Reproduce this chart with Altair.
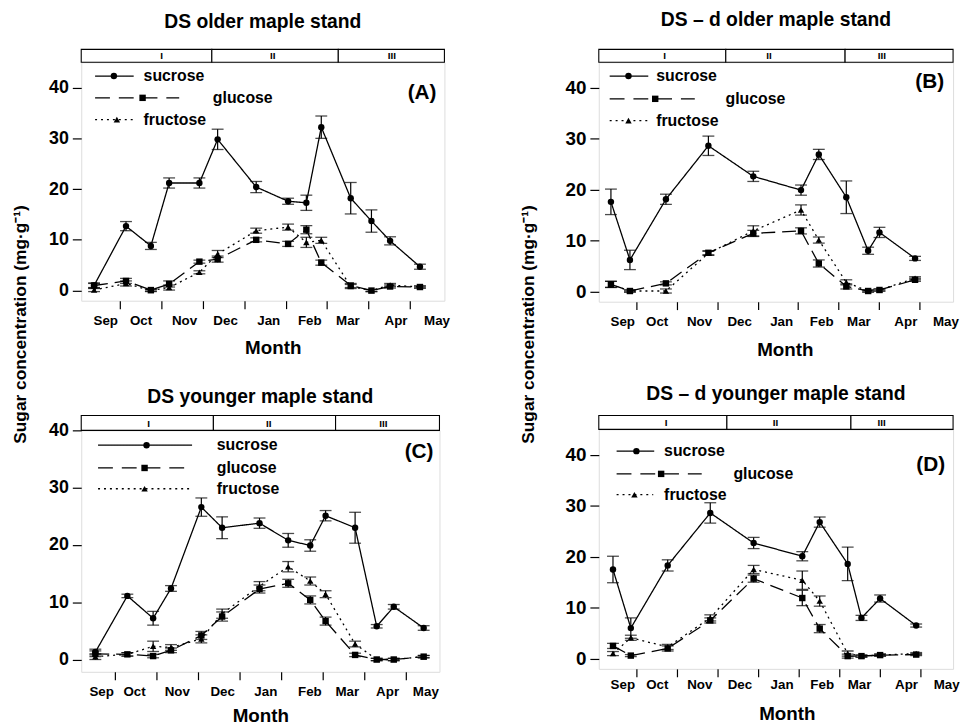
import altair as alt
import pandas as pd

FONT = "Liberation Sans"
SUGARS = ["sucrose", "glucose", "fructose"]
MONTHS = ["Sep", "Oct", "Nov", "Dec", "Jan", "Feb", "Mar", "Apr", "May"]
MONTH_TICKS = [1, 2, 3, 4, 5, 6, 7, 8]
Y_TICKS = [0, 10, 20, 30, 40]
PHASES = ["I", "II", "III"]
Y_TITLE = "Sugar concentration (mg\u00b7g\u207b\u00b9)"

# month label positions (month index units; ticks mark month boundaries)
LAB_ABD = [0.65, 1.50, 2.55, 3.54, 4.58, 5.57, 6.49, 7.65, 8.64]
LAB_C = [0.67, 1.46, 2.49, 3.58, 4.62, 5.68, 6.58, 7.55, 8.47]

# ---- (A) DS older maple stand
A_x = [0.38, 1.15, 1.75, 2.19, 2.92, 3.36, 4.29, 5.06, 5.50, 5.86, 6.57, 7.07, 7.52, 8.24]
A_suc = [1.0, 12.7, 8.8, 21.2, 21.2, 29.8, 20.4, 17.6, 17.3, 32.2, 18.2, 13.7, 9.8, 4.7]
A_suc_se = [0.5, 0.9, 0.7, 1.0, 1.0, 2.0, 1.1, 0.6, 1.5, 2.2, 3.1, 2.2, 0.8, 0.5]
A_glu = [1.0, 1.9, 0.1, 1.3, 5.7, 6.2, 10.0, 9.2, 12.0, 5.5, 1.0, 0.0, 0.8, 0.7]
A_glu_se = [0.4, 0.5, 0.2, 0.6, 0.3, 0.6, 0.4, 0.5, 0.8, 0.5, 0.4, 0.2, 0.3, 0.2]
A_fru = [0.1, 1.4, 0.0, 0.6, 3.6, 7.2, 11.8, 12.5, 9.5, 9.9, 0.8, 0.0, 1.1, 0.7]
A_fru_se = [0.3, 0.5, 0.2, 0.5, 0.3, 0.7, 0.5, 0.6, 1.0, 0.6, 0.4, 0.2, 0.3, 0.2]
A_breaks = [3.22, 6.27]
A_phase_pos = [2.01, 4.69, 7.56]

# ---- (B) DS - d older maple stand
B_x = [0.37, 0.84, 1.73, 2.78, 3.89, 5.07, 5.51, 6.19, 6.73, 7.01, 7.89]
B_suc = [17.6, 6.2, 18.1, 28.6, 22.6, 19.9, 26.9, 18.5, 8.0, 11.6, 6.5]
B_suc_se = [2.5, 1.9, 1.0, 1.9, 1.0, 1.0, 1.0, 3.2, 0.7, 1.0, 0.4]
B_glu = [1.4, 0.1, 1.6, 7.6, 11.4, 11.9, 5.5, 1.0, 0.1, 0.3, 2.3]
B_glu_se = [0.6, 0.2, 0.3, 0.4, 0.6, 0.6, 0.7, 0.5, 0.2, 0.2, 0.3]
B_fru = [1.4, 0.1, 0.1, 7.5, 11.9, 16.0, 10.1, 1.8, 0.1, 0.3, 2.6]
B_fru_se = [0.6, 0.2, 0.4, 0.4, 1.0, 1.0, 0.6, 0.5, 0.2, 0.2, 0.3]
B_breaks = [3.21, 6.16]
B_phase_pos = [1.70, 4.28, 7.07]

# ---- (C) DS younger maple stand
C_x = [0.53, 1.30, 1.92, 2.35, 3.08, 3.58, 4.48, 5.17, 5.70, 6.07, 6.78, 7.30, 7.71, 8.43]
C_suc = [1.3, 11.1, 7.2, 12.4, 26.6, 23.0, 23.8, 20.8, 19.9, 25.1, 23.0, 5.8, 9.2, 5.5]
C_suc_se = [0.5, 0.3, 1.2, 0.5, 1.6, 1.9, 0.9, 1.2, 1.0, 0.9, 2.7, 0.3, 0.4, 0.4]
C_glu = [1.0, 0.9, 0.6, 1.6, 4.2, 7.5, 12.3, 13.3, 10.4, 6.7, 0.8, 0.0, 0.0, 0.5]
C_glu_se = [0.5, 0.3, 0.3, 0.4, 0.7, 0.8, 0.7, 0.7, 0.7, 0.7, 0.3, 0.2, 0.2, 0.2]
C_fru = [0.5, 0.9, 2.3, 2.1, 3.6, 8.0, 12.8, 16.2, 13.7, 11.4, 2.7, 0.0, 0.0, 0.5]
C_fru_se = [0.5, 0.3, 0.9, 0.5, 0.7, 0.8, 0.8, 0.9, 0.7, 0.6, 0.5, 0.2, 0.2, 0.2]
C_breaks = [3.37, 6.31]
C_phase_pos = [1.81, 4.70, 7.46]

# ---- (D) DS - d younger maple stand
D_x = [0.42, 0.86, 1.77, 2.82, 3.89, 5.09, 5.52, 6.21, 6.55, 7.01, 7.90]
D_suc = [17.5, 6.0, 18.3, 28.6, 22.7, 20.1, 26.8, 18.6, 8.0, 11.8, 6.5]
D_suc_se = [2.6, 2.0, 1.1, 2.0, 1.1, 0.9, 1.0, 3.3, 0.5, 0.7, 0.3]
D_glu = [2.5, 0.6, 2.0, 7.5, 15.7, 11.9, 5.9, 0.5, 0.5, 0.7, 0.8]
D_glu_se = [0.5, 0.2, 0.5, 0.5, 0.7, 1.5, 0.8, 0.4, 0.2, 0.2, 0.2]
D_fru = [1.0, 4.1, 2.3, 8.0, 17.5, 15.4, 11.3, 1.0, 0.5, 0.7, 1.0]
D_fru_se = [0.4, 0.5, 0.5, 0.6, 0.8, 1.8, 1.0, 0.5, 0.2, 0.2, 0.2]
D_breaks = [3.23, 6.29]
D_phase_pos = [1.73, 4.43, 7.05]

DASHES = [[1, 0], [14, 7], [2, 4]]
SHAPES = ["circle", "square", "triangle-up"]
LEG_DASHES = [[1, 0], [15, 9], [2, 4]]


def long_frame(x, series):
    rows = []
    for name, (vals, ses) in zip(SUGARS, series):
        for xi, v, s in zip(x, vals, ses):
            rows.append({"x": xi, "sugar": name, "value": v,
                         "lo": max(v - s, -0.3), "hi": v + s})
    return pd.DataFrame(rows)


def panel(df, title, tag, xdom, ydom, label_pos, breaks, phase_pos, w, h,
          strip_h, tick_font, leg, tag_right, tag_y, title_offset,
          lab_pad, title_pad, title_shift):
    xs = alt.Scale(domain=xdom, nice=False, zero=False)
    ys = alt.Scale(domain=ydom, nice=False, zero=False)
    yax = alt.Axis(values=Y_TICKS, grid=False, domain=False, tickSize=9,
                   tickColor="black", tickWidth=1.2, labelFont=FONT,
                   labelFontSize=tick_font, labelFontWeight="bold",
                   labelColor="black", labelPadding=4, title=None)
    tick_axis = alt.Axis(values=MONTH_TICKS, labels=False, grid=False,
                         domain=False, tickSize=8, tickColor="black",
                         tickWidth=1.2, title=None, orient="bottom")
    expr = "[" + ",".join("'%s'" % m for m in MONTHS) + "][floor(datum.value)]"
    label_axis = alt.Axis(values=label_pos, labelExpr=expr, ticks=False,
                          tickSize=0, domain=False, grid=False,
                          labelPadding=lab_pad, labelFont=FONT,
                          labelFontSize=13.5, labelFontWeight="bold",
                          labelColor="black", labelFlush=False,
                          labelOverlap=False, title="Month", titleFont=FONT,
                          titleFontSize=19, titleFontWeight="bold",
                          titleColor="black", titlePadding=title_pad,
                          titleX=w / 2 + title_shift, orient="bottom")
    dash_scale = alt.Scale(domain=SUGARS, range=DASHES)
    shape_scale = alt.Scale(domain=SUGARS, range=SHAPES)

    base = alt.Chart(df)
    lines = base.mark_line(color="black", strokeWidth=1.3).encode(
        x=alt.X("x:Q", scale=xs, axis=tick_axis),
        y=alt.Y("value:Q", scale=ys, axis=yax),
        strokeDash=alt.StrokeDash("sugar:N", scale=dash_scale, legend=None),
        detail="sugar:N",
    )
    errs = base.mark_rule(color="black", strokeWidth=1.2).encode(
        x=alt.X("x:Q", scale=xs, axis=None),
        y=alt.Y("lo:Q", scale=ys, axis=yax),
        y2="hi:Q",
    )
    cap_lo = base.mark_tick(color="black", orient="horizontal", size=12,
                            thickness=1.3).encode(
        x=alt.X("x:Q", scale=xs, axis=None),
        y=alt.Y("lo:Q", scale=ys, axis=yax),
    )
    cap_hi = base.mark_tick(color="black", orient="horizontal", size=12,
                            thickness=1.3).encode(
        x=alt.X("x:Q", scale=xs, axis=None),
        y=alt.Y("hi:Q", scale=ys, axis=yax),
    )
    pts = base.mark_point(filled=True, color="black", opacity=1, size=42).encode(
        x=alt.X("x:Q", scale=xs, axis=label_axis),
        y=alt.Y("value:Q", scale=ys, axis=yax),
        shape=alt.Shape("sugar:N", scale=shape_scale, legend=None),
    )

    strip_df = pd.DataFrame({"start": [xdom[0]] + breaks,
                             "end": breaks + [xdom[1]],
                             "phase": PHASES, "pos": phase_pos})
    strip = alt.Chart(strip_df).mark_rect(fill="white", stroke="black",
                                          strokeWidth=1.1).encode(
        x=alt.X("start:Q", scale=xs, axis=None), x2="end:Q",
        y=alt.value(-strip_h), y2=alt.value(0))
    strip_txt = alt.Chart(strip_df).mark_text(
        font=FONT, fontSize=10, fontWeight="bold", color="black",
        baseline="bottom").encode(
        x=alt.X("pos:Q", scale=xs, axis=None), y=alt.value(-1), text="phase:N")

    legend_layers = []
    for i, s in enumerate(SUGARS):
        d = pd.DataFrame({"sugar": [s]})
        ry = leg["rows"][i]
        legend_layers.append(alt.Chart(d).mark_rule(
            color="black", strokeWidth=1.3, strokeDash=LEG_DASHES[i]).encode(
            x=alt.value(leg["x0"]), x2=alt.value(leg["x1"][i]), y=alt.value(ry)))
        legend_layers.append(alt.Chart(d).mark_point(
            filled=True, color="black", opacity=1, size=42, shape=SHAPES[i]).encode(
            x=alt.value(leg["mx"][i]), y=alt.value(ry)))
        legend_layers.append(alt.Chart(d).mark_text(
            font=FONT, fontSize=16, fontWeight="bold", color="black",
            align="left", baseline="middle").encode(
            x=alt.value(leg["tx"][i]), y=alt.value(ry), text="sugar:N"))

    tag_layer = alt.Chart(pd.DataFrame({"t": [tag]})).mark_text(
        font=FONT, fontSize=21, fontWeight="bold", color="black",
        align="right", baseline="middle").encode(
        x=alt.value(w - tag_right), y=alt.value(tag_y), text="t:N")

    return alt.layer(lines, errs, cap_lo, cap_hi, pts, strip, strip_txt,
                     *legend_layers, tag_layer).resolve_axis(
        x="independent").properties(
        width=w, height=h,
        title=alt.TitleParams(title, font=FONT, fontSize=19.5,
                              fontWeight="bold", color="black",
                              anchor="middle", offset=title_offset))


dfA = long_frame(A_x, [(A_suc, A_suc_se), (A_glu, A_glu_se), (A_fru, A_fru_se)])
dfB = long_frame(B_x, [(B_suc, B_suc_se), (B_glu, B_glu_se), (B_fru, B_fru_se)])
dfC = long_frame(C_x, [(C_suc, C_suc_se), (C_glu, C_glu_se), (C_fru, C_fru_se)])
dfD = long_frame(D_x, [(D_suc, D_suc_se), (D_glu, D_glu_se), (D_fru, D_fru_se)])

pA = panel(dfA, "DS older maple stand", "(A)", [0.07, 8.83], [-2, 45], LAB_ABD,
           A_breaks, A_phase_pos, 367, 241, 13, 18,
           {"x0": 14, "x1": [53, 99, 53], "mx": [33, 62, 36],
            "rows": [14, 36, 58], "tx": [63, 133, 63]}, 8, 31, 17,
           13, 12, 10)
pB = panel(dfB, "DS \u2013 d older maple stand", "(B)", [0.07, 8.83], [-2, 45],
           LAB_ABD, B_breaks, B_phase_pos, 358, 242, 13, 19,
           {"x0": 11, "x1": [50, 97, 50], "mx": [30, 57, 30],
            "rows": [14, 37, 59], "tx": [58, 128, 58]}, 9, 20, 19,
           13, 13, 9)
pC = panel(dfC, "DS younger maple stand", "(C)", [0.19, 8.81], [-2.15, 40],
           LAB_C, C_breaks, C_phase_pos, 362, 244, 15, 18,
           {"x0": 17, "x1": [112, 104, 111], "mx": [66, 64, 64],
            "rows": [15, 38, 59], "tx": [137, 137, 137]}, 6, 22, 8,
           13, 9, 0)
pD = panel(dfD, "DS \u2013 d younger maple stand", "(D)", [0.07, 8.81], [-2, 45],
           LAB_ABD, D_breaks, D_phase_pos, 358, 242, 14, 19,
           {"x0": 18, "x1": [56, 104, 55], "mx": [38, 63, 36],
            "rows": [22, 45, 66], "tx": [66, 136, 66]}, 8, 36, 11,
           9, 14, 11)


def ytitle(w, cx, cy):
    return alt.Chart(pd.DataFrame({"t": [Y_TITLE]})).mark_text(
        angle=270, font=FONT, fontSize=17.5, fontWeight="bold", color="black",
        align="center", baseline="middle").encode(
        text="t:N", x=alt.value(cx), y=alt.value(cy)).properties(
        width=w, height=600, view=alt.ViewBackground(stroke="transparent"))


colL = alt.vconcat(pA, pC, spacing=28)
colR = alt.vconcat(pB, pD, spacing=23)

chart = alt.hconcat(ytitle(38, 12, 265), colL, ytitle(113, 79, 265), colR,
                    spacing=0).properties(
    padding={"left": 0, "top": -3, "right": 0, "bottom": 0}
).configure_view(stroke="black", strokeWidth=1.2).configure(
    background="white")

chart.save("out.html", embed_options={"renderer": "svg", "actions": False})
